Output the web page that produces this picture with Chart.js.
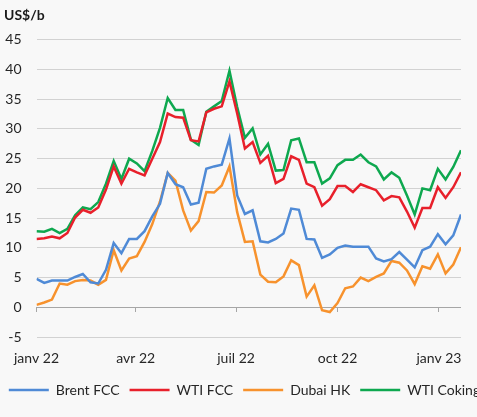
<!DOCTYPE html>
<html>
<head>
<meta charset="utf-8">
<script src="https://cdn.jsdelivr.net/npm/chart.js@4"></script>
<style>
  html, body { margin: 0; padding: 0; background: #f8f8f8; overflow: hidden; }
  #wrap { width: 477px; height: 417px; overflow: hidden; }
</style>
</head>
<body>
<div id="wrap"><canvas id="chart" height="417"></canvas></div>
<script>
// weekly margins, US$/b, starting first week of Jan 2022
const startDate = "2022-01-01";
const seriesNames = ["Brent FCC", "WTI FCC", "Dubai HK", "WTI Coking"];

const brentFCC = [4.8, 4.1, 4.5, 4.5, 4.5, 5.1, 5.6, 4.2, 4.0, 6.3, 10.8, 9.1, 11.5, 11.5, 12.8, 15.3,
  17.4, 22.6, 20.7, 20.2, 17.3, 17.6, 23.3, 23.7, 24.0, 28.4, 18.8, 15.7, 16.3, 11.1, 10.9, 11.5,
  12.4, 16.6, 16.4, 11.5, 11.4, 8.3, 8.9, 10.0, 10.4, 10.2, 10.2, 10.2, 8.2, 7.7, 8.1, 9.3,
  8.0, 6.7, 9.6, 10.2, 12.3, 10.6, 12.1, 15.6];
const wtiFCC = [11.5, 11.6, 11.9, 11.6, 12.5, 15.1, 16.4, 15.9, 16.8, 19.8, 23.7, 20.8, 23.3, 22.7, 22.2, 25.0,
  27.8, 32.6, 32.0, 31.9, 28.1, 27.9, 32.8, 33.4, 33.8, 38.0, 32.6, 26.7, 27.8, 24.3, 25.5, 20.9,
  21.6, 25.4, 24.8, 20.8, 20.2, 17.1, 18.2, 20.4, 20.4, 19.4, 20.7, 20.2, 19.7, 18.0, 18.7, 18.5,
  16.1, 13.4, 16.7, 16.7, 20.2, 18.4, 20.2, 22.7];
const dubaiHK = [0.4, 0.8, 1.3, 4.0, 3.8, 4.4, 4.6, 4.5, 3.8, 4.6, 9.6, 6.2, 8.2, 8.6, 11.0, 14.0,
  17.8, 22.6, 21.3, 16.3, 12.9, 14.5, 19.4, 19.3, 20.5, 23.7, 16.0, 11.0, 11.1, 5.5, 4.3, 4.2,
  5.2, 7.9, 7.1, 1.8, 3.7, -0.5, -0.8, 0.7, 3.2, 3.5, 5.0, 4.4, 5.1, 5.7, 7.8, 7.5,
  6.2, 3.9, 6.9, 6.5, 8.9, 5.7, 7.2, 10.1];
const wtiCoking = [12.8, 12.7, 13.2, 12.5, 13.2, 15.5, 16.8, 16.5, 17.7, 20.8, 24.6, 21.6, 25.0, 24.2, 22.9, 26.3,
  30.2, 35.2, 33.2, 33.2, 28.2, 27.3, 32.9, 33.8, 34.7, 39.8, 33.7, 28.5, 30.1, 25.7, 27.5, 23.0,
  23.1, 28.1, 28.4, 24.4, 24.4, 20.8, 21.7, 23.9, 24.8, 24.8, 25.7, 24.4, 23.7, 21.5, 22.7, 21.8,
  18.8, 15.6, 20.0, 19.7, 23.3, 21.5, 23.6, 26.4];

const tickDates = ["2022-01-01", "2022-04-01", "2022-07-01", "2022-10-01", "2023-01-01"];
const tickLabels = ["janv 22", "avr 22", "juil 22", "oct 22", "janv 23"];

const colors = ["#4f8ad6", "#e8202b", "#f7922d", "#0ea84f"];

const dayOf = s => Math.round((Date.parse(s) - Date.parse(startDate)) / 86400000);
const weeks = brentFCC.map((_, i) => {
  const d = new Date(Date.parse(startDate) + i * 7 * 86400000);
  return d.toISOString().slice(0, 10);
});
const weekDays = weeks.map(dayOf);
const tickDays = tickDates.map(dayOf);
const maxDay = weekDays[weekDays.length - 1];

Chart.defaults.font.family = "Lato";

// the legend runs past the right edge in the original, so the canvas is a bit wider than the window
const legendSize = 14;
const mctx = document.createElement("canvas").getContext("2d");
mctx.font = "normal " + legendSize + "px Lato";
const itemsW = seriesNames.reduce((s, n) => s + 40 + legendSize / 2 + mctx.measureText(n).width, 0);
const W = Math.ceil(itemsW) + 50;
const plotRight = 461;

const canvas = document.getElementById("chart");
canvas.width = W;

const setTicks = s => { s.ticks = tickDays.map(v => ({ value: v })); };

// small nudges: title a bit in from the edge, legend a bit to the left
const nudge = {
  id: "nudge",
  afterLayout(chart) {
    if (chart.titleBlock) chart.titleBlock.left += 4;
    if (chart.legend) chart.legend.left -= 3;
  },
};

new Chart(canvas.getContext("2d"), {
  type: "line",
  data: {
    labels: weekDays,
    datasets: [brentFCC, wtiFCC, dubaiHK, wtiCoking].map((vals, k) => ({
      label: seriesNames[k],
      data: vals,
      borderColor: colors[k],
      backgroundColor: colors[k],
      borderWidth: 2.5,
      pointRadius: 0,
      tension: 0,
      fill: false,
      xAxisID: "x",
      yAxisID: "y",
    })),
  },
  options: {
    responsive: false,
    animation: false,
    layout: { padding: { left: 0, top: 0, right: 0, bottom: 10 } },
    plugins: {
      title: {
        display: true,
        text: "US$/b",
        align: "start",
        color: "#1a1a1a",
        font: { size: 14, weight: "bold" },
        padding: { top: 7, bottom: 16 },
      },
      legend: {
        position: "bottom",
        labels: {
          usePointStyle: true,
          pointStyle: "line",
          pointStyleWidth: 40,
          padding: 10,
          color: "#262626",
          font: { size: legendSize },
        },
      },
      tooltip: { enabled: false },
    },
    scales: {
      x: {
        type: "linear",
        min: 0,
        max: maxDay,
        afterBuildTicks: setTicks,
        afterFit: s => { s.height = 36; },
        grid: { display: false, drawTicks: false },
        border: { display: false },
        ticks: {
          autoSkip: false,
          maxRotation: 0,
          padding: 14,
          color: "#262626",
          font: { size: 14, lineHeight: "14px" },
          callback: v => tickLabels[tickDays.indexOf(v)] ?? "",
        },
      },
      xTicks: {
        type: "linear",
        axis: "x",
        position: { y: 0 },
        min: 0,
        max: maxDay,
        afterBuildTicks: setTicks,
        afterFit: s => { s.height = 0; },
        ticks: { display: false },
        grid: { drawOnChartArea: false, drawTicks: true, tickLength: 5, color: "#a6a6a6" },
        border: { display: false },
      },
      y: {
        min: -5,
        max: 45,
        afterFit: s => { s.width = 32; },
        ticks: { stepSize: 5, padding: 15, color: "#262626", font: { size: 14 } },
        grid: {
          drawTicks: false,
          color: c => (c.tick && c.tick.value === 0 ? "#a6a6a6" : "#d2d2d2"),
        },
        border: { display: false },
      },
      yRight: {
        position: "right",
        afterFit: s => { s.width = W - plotRight; },
        grid: { display: false },
        ticks: { display: false },
        border: { display: false },
      },
    },
  },
  plugins: [nudge],
});
</script>
</body>
</html>
